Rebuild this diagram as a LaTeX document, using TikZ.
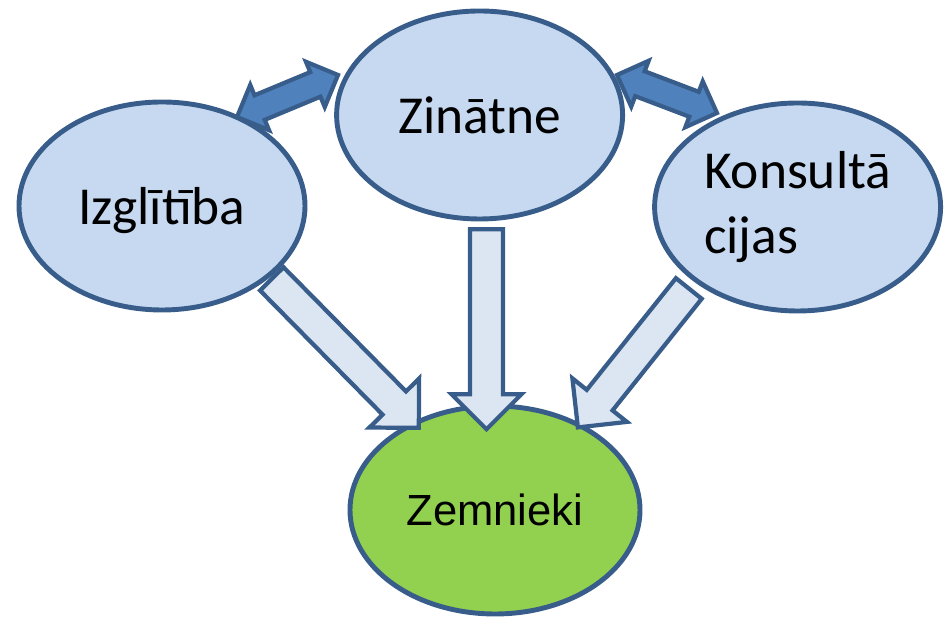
\documentclass[tikz,border=0pt]{standalone}
\usepackage{fontspec}
\setmainfont{Carlito}
\newfontfamily\zemfont{Liberation Sans}
\usetikzlibrary{shapes.geometric,shapes.arrows,calc}
\definecolor{bubble}{HTML}{C6D9F1}
\definecolor{rim}{HTML}{385D8A}
\definecolor{farm}{HTML}{92D050}
\definecolor{linkblue}{HTML}{4F81BD}
\definecolor{flowblue}{HTML}{DCE6F2}
\begin{document}
\begin{tikzpicture}[
    bubble/.style={ellipse, draw=rim, line width=3.5pt, fill=bubble, inner sep=0pt,
      minimum width=7.15cm, minimum height=5.2cm, font=\fontsize{38}{46}\selectfont},
    link/.style={double arrow, draw=rim, line width=3pt, fill=linkblue, inner xsep=0pt,
      inner ysep=0.28cm, double arrow head extend=0.28cm},
    flow/.style={single arrow, draw=rim, line width=3pt, fill=flowblue, inner xsep=0pt,
      inner ysep=0.36cm, single arrow head extend=0.46cm}
  ]
  \useasboundingbox (0,0) rectangle (23.8,15.425);
  \node[bubble, text depth=0pt] (izg) at (4.05,10.275) {Izglītība};
  \node[bubble] (zin) at (11.99,12.55) {Zinātne};
  \node[bubble, align=left] (kons) at (19.94,10.25) {Konsultā\\cijas};
  \node[bubble, fill=farm, minimum width=7.25cm, font=\zemfont\fontsize{31}{37}\selectfont]
    (zem) at (12.375,2.675) {Zemnieki};
  % ends of the arrows
  \coordinate (izgend) at (6.65,8.6);
  \coordinate (zinend) at (12.1625,9.9);
  \coordinate (konsend) at (17.35,8.375);
  \coordinate (tipa) at (10.325,4.875);
  \coordinate (tipb) at (12.1625,4.9);
  \coordinate (tipc) at (14.575,4.9);
  \coordinate (linka) at (5.925,12.5);
  \coordinate (linkb) at (8.45,13.55);
  \coordinate (linkc) at (15.425,13.55);
  \coordinate (linkd) at (17.925,12.6);
  % flows down to Zemnieki
  \path let \p1 = ($(tipa)-(izgend)$) in
    node[flow, minimum height={veclen(\x1,\y1)}, rotate={atan2(\y1,\x1)}] (fa) at ($(izgend)!0.5!(tipa)$) {};
  \path let \p1 = ($(tipb)-(zinend)$) in
    node[flow, minimum height={veclen(\x1,\y1)}, rotate={atan2(\y1,\x1)}] (fb) at ($(zinend)!0.5!(tipb)$) {};
  \path let \p1 = ($(tipc)-(konsend)$) in
    node[flow, minimum height={veclen(\x1,\y1)}, rotate={atan2(\y1,\x1)}] (fc) at ($(konsend)!0.5!(tipc)$) {};
  % links between the top three
  \path let \p1 = ($(linkb)-(linka)$) in
    node[link, minimum height={veclen(\x1,\y1)}, rotate={atan2(\y1,\x1)}] (la) at ($(linka)!0.5!(linkb)$) {};
  \path let \p1 = ($(linkd)-(linkc)$) in
    node[link, minimum height={veclen(\x1,\y1)}, rotate={atan2(\y1,\x1)}] (lb) at ($(linkc)!0.5!(linkd)$) {};
\end{tikzpicture}
\end{document}
